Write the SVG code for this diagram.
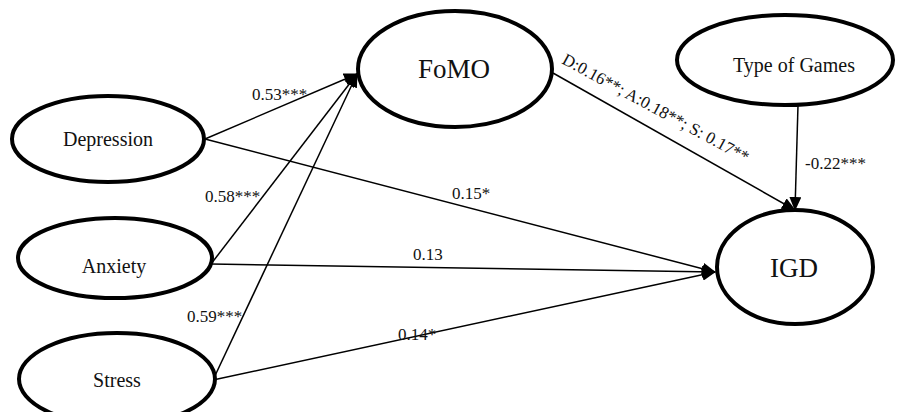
<svg xmlns="http://www.w3.org/2000/svg" width="897" height="412" viewBox="0 0 897 412">
<style>
.node ellipse{fill:#fff;stroke:#000;stroke-width:4}
.node text{font-family:"Liberation Serif","Times New Roman",serif;font-size:20px;text-anchor:middle;fill:#111}
.big text{font-size:27px}
.edge{stroke:#000;stroke-width:1.5;fill:none;marker-end:url(#ah)}
.lbl{font-family:"Liberation Serif","Times New Roman",serif;font-size:17px;fill:#111}
</style>
<defs>
<marker id="ah" markerUnits="userSpaceOnUse" markerWidth="14" markerHeight="12" refX="13" refY="6" orient="auto">
<path d="M0,0 L14,6 L0,12 z" fill="#000"/>
</marker>
</defs>
<rect width="897" height="412" fill="#fff"/>
<g id="connectors">
<line class="edge" x1="205" y1="139" x2="357" y2="74"/>
<line class="edge" x1="211" y1="264" x2="357" y2="74"/>
<line class="edge" x1="213" y1="380" x2="357" y2="74"/>
<line class="edge" x1="205" y1="139" x2="715" y2="272"/>
<line class="edge" x1="211" y1="264" x2="715" y2="272"/>
<line class="edge" x1="213" y1="380" x2="715" y2="272"/>
<line class="edge" x1="553" y1="73" x2="795" y2="210"/>
<line class="edge" x1="798" y1="105" x2="795" y2="210"/>
<text class="lbl" x="252" y="100">0.53***</text>
<text class="lbl" x="205" y="202">0.58***</text>
<text class="lbl" x="187" y="322">0.59***</text>
<text class="lbl" x="452" y="199">0.15*</text>
<text class="lbl" x="413" y="260">0.13</text>
<text class="lbl" x="398" y="340">0.14*</text>
<text class="lbl" x="805" y="169">-0.22***</text>
<text class="lbl" x="561" y="63" font-size="18" transform="rotate(28.5 561 63)">D:0.16**; A:0.18**; S: 0.17**</text>
</g>
<g id="depression" class="node">
<ellipse cx="108" cy="139" rx="96" ry="43"/>
<text x="108" y="146">Depression</text>
</g>
<g id="anxiety" class="node">
<ellipse cx="115" cy="258" rx="97" ry="40"/>
<text x="114" y="273">Anxiety</text>
</g>
<g id="stress" class="node">
<ellipse cx="117" cy="379" rx="98" ry="46"/>
<text x="117" y="387">Stress</text>
</g>
<g id="fomo" class="node big">
<ellipse cx="455" cy="69" rx="97" ry="58"/>
<text x="454" y="78">FoMO</text>
</g>
<g id="type-of-games" class="node">
<ellipse cx="785" cy="60" rx="108" ry="45"/>
<text x="794" y="72">Type of Games</text>
</g>
<g id="igd" class="node big">
<ellipse cx="795" cy="267" rx="78" ry="57"/>
<text x="794" y="277">IGD</text>
</g>
</svg>
